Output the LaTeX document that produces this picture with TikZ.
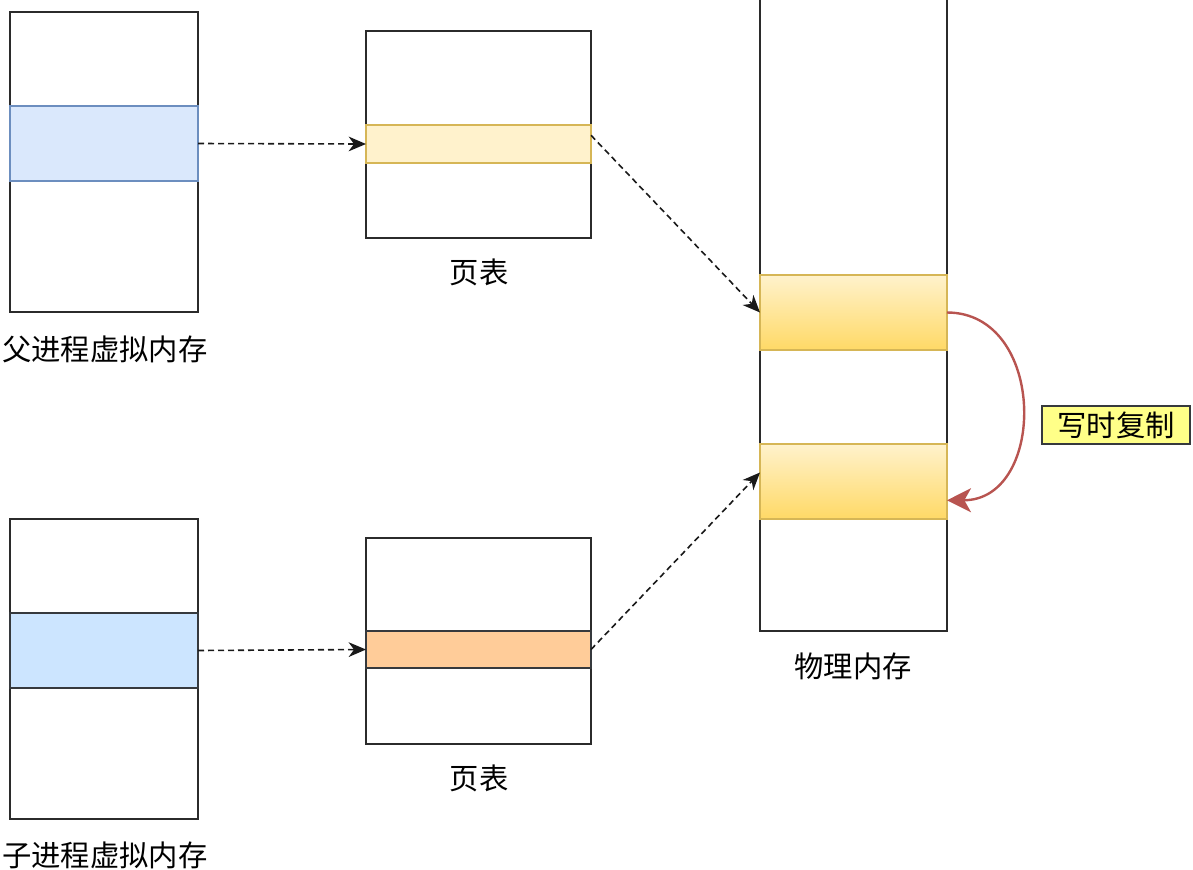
\documentclass[tikz,border=0pt]{standalone}
\usepackage{fontspec}
\newfontfamily\cjk{Noto Sans CJK SC}
\usetikzlibrary{arrows.meta,calc}

\definecolor{edgegray}{HTML}{2B2B2B}
\definecolor{darkline}{HTML}{36393D}
\definecolor{blueFill}{HTML}{DAE8FC}
\definecolor{blueLine}{HTML}{6C8EBF}
\definecolor{blueFillB}{HTML}{CCE5FF}
\definecolor{yelFill}{HTML}{FFF2CC}
\definecolor{yelDeep}{HTML}{FFD966}
\definecolor{yelLine}{HTML}{D6B656}
\definecolor{orgFill}{HTML}{FFCC99}
\definecolor{noteFill}{HTML}{FFFF88}
\definecolor{cowRed}{HTML}{B85450}

\tikzset{
  sz/.style 2 args={minimum width={#1*0.75pt}, minimum height={#2*0.75pt}},
  cell/.style={anchor=north west, inner sep=0pt, outer sep=0pt, line width=1.1pt},
  box/.style={cell, draw=edgegray, fill=white},
  vband/.style={cell, draw=blueLine, fill=blueFill},
  vbandb/.style={cell, draw=darkline, fill=blueFillB},
  pband/.style={cell, draw=yelLine, fill=yelFill},
  pbandb/.style={cell, draw=darkline, fill=orgFill},
  mband/.style={cell, draw=yelLine, top color=yelFill, bottom color=yelDeep},
  lbl/.style={font=\cjk\fontsize{22}{26}\selectfont, text=black, inner sep=0pt},
  note/.style={cell, draw=darkline, fill=noteFill, font=\cjk\fontsize{22}{26}\selectfont},
  map/.style={draw=black!90, line width=1.2pt, dash pattern=on 4.5pt off 3pt,
    -{Stealth[length=13pt,width=11pt,inset=4pt]}},
  cow/.style={draw=cowRed, line width=1.8pt,
    -{Stealth[length=18pt,width=18pt,inset=5pt]}}
}

\begin{document}
\begin{tikzpicture}[x=0.75pt, y=-0.75pt]
  \useasboundingbox (0,0) rectangle (1193,869);

  % parent process virtual memory
  \node[box, sz={188}{300}] (pv) at (10,12) {};
  \node[vband, sz={188}{75}] (pvb) at (10,106) {};
  \node[lbl] (pvl) at (105,349) {父进程虚拟内存};

  % parent page table
  \node[box, sz={225}{207}] (pt) at (366,31) {};
  \node[pband, sz={225}{38}] (ptb) at (366,125) {};
  \node[lbl] (ptl) at (479,272) {页表};

  % physical memory (runs past the top edge)
  \node[box, sz={187}{651}] (pm) at (760,-20) {};
  \node[mband, sz={187}{75}] (pm1) at (760,275) {};
  \node[mband, sz={187}{75}] (pm2) at (760,444) {};
  \node[lbl] (pml) at (853,666) {物理内存};

  % child process virtual memory
  \node[box, sz={188}{300}] (cv) at (10,519) {};
  \node[vbandb, sz={188}{75}] (cvb) at (10,613) {};
  \node[lbl] (cvl) at (105,855) {子进程虚拟内存};

  % child page table
  \node[box, sz={225}{206}] (ct) at (366,538) {};
  \node[pbandb, sz={225}{37}] (ctb) at (366,631) {};
  \node[lbl] (ctl) at (479,778) {页表};

  % copy-on-write note
  \node[note, sz={148}{38}] (cowl) at (1042,406) {写时复制};

  % mappings
  \draw[map] (pvb.east) -- (ptb.west);
  \draw[map] (cvb.east) -- (ctb.west);
  \draw[map] ($(ptb.north east)!0.27!(ptb.south east)$) -- (pm1.west);
  \draw[map] (ctb.east) -- ($(pm2.north west)!0.38!(pm2.south west)$);

  % copy on write
  \draw[cow] (pm1.east) .. controls ++(100,0) and ($(pm2.north east)!0.75!(pm2.south east)+(100,0)$) .. ($(pm2.north east)!0.75!(pm2.south east)$);
\end{tikzpicture}
\end{document}
